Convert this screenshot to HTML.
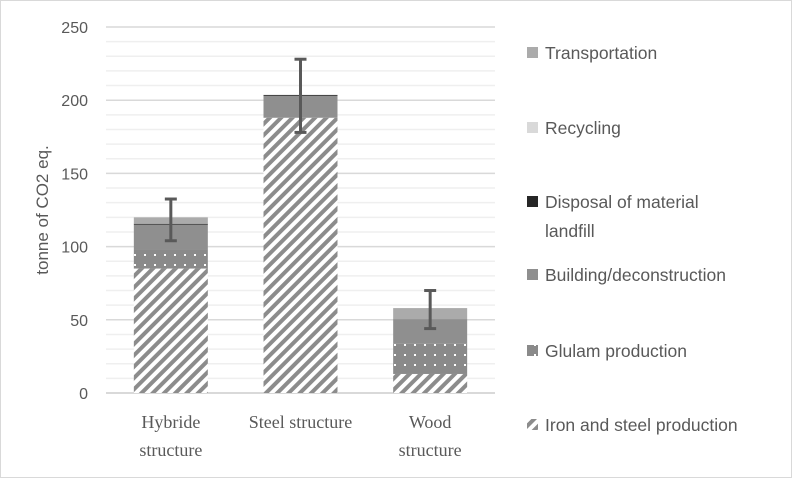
<!DOCTYPE html>
<html><head><meta charset="utf-8"><style>
body{margin:0;background:#fff;}
svg text{font-family:"Liberation Sans",sans-serif;fill:#595959;}
</style></head><body>
<svg width="792" height="478" viewBox="0 0 792 478" xmlns="http://www.w3.org/2000/svg">
<defs>
<pattern id="hatch" patternUnits="userSpaceOnUse" width="8" height="8" patternTransform="rotate(45)">
<rect width="8" height="8" fill="#fff"/><rect width="4" height="8" fill="#8c8c8c"/>
</pattern>
<pattern id="dots" patternUnits="userSpaceOnUse" width="10" height="10">
<rect width="10" height="10" fill="#8a8a8a"/><rect x="4" y="4" width="2" height="2" fill="#fff"/>
</pattern>
</defs>
<rect x="0.5" y="0.5" width="791" height="477" fill="#fff" stroke="#d9d9d9"/>
<g id="grid"></g><g id="bars"></g><g id="labels"></g>
<text transform="translate(48,210) rotate(-90)" text-anchor="middle" font-size="17">tonne of  CO2 eq.</text>
<g id="legend"></g>
</svg>
<script>
const categories=[["Hybride","structure"],["Steel structure"],["Wood","structure"]];
const iron=[85,188,13];
const glulam=[13,0,21];
const building=[17,15,16.5];
const disposal=[0.6,0.6,0];
const recycling=[0,0,0];
const transport=[4.4,0,7.5];
const errHigh=[132.5,228,70];
const errLow=[104,178,44];
const yTicks=[0,50,100,150,200,250];
const ns="http://www.w3.org/2000/svg";
const y0=393,y1=27,yMax=250,plotL=106,plotR=495;
const y=v=>y0-(v/yMax)*(y0-y1);
const bandW=(plotR-plotL)/categories.length;
const cx=i=>plotL+bandW*(i+0.5);
const barW=74;
function mk(tag,attrs,parent){const e=document.createElementNS(ns,tag);for(const k in attrs)e.setAttribute(k,attrs[k]);parent.appendChild(e);return e;}
const grid=document.getElementById('grid');
for(let v=0;v<=yMax;v+=10){
 const l=mk('line',{x1:plotL,x2:plotR,y1:y(v),y2:y(v),stroke:v%50===0?'#d9d9d9':'#efefef','stroke-width':v===0?2:1.5},grid);
 
 
}
const labels=document.getElementById('labels');
yTicks.forEach(t=>{const e=mk('text',{x:88,y:y(t)+6,'text-anchor':'end','font-size':16},labels);e.textContent=t;
 
 });
const series=[[iron,'url(#hatch)','iron'],[glulam,'url(#dots)','glulam'],[building,'#8f8f8f','building'],[disposal,'#262626','disposal'],[recycling,'#d9d9d9','recycling'],[transport,'#ababab','transport']];
const bars=document.getElementById('bars');
categories.forEach((c,i)=>{
 let base=0;
 series.forEach(([arr,fill,nm])=>{const v=arr[i];if(v>0){const r=mk('rect',{x:cx(i)-barW/2,y:y(base+v),width:barW,height:y(base)-y(base+v),fill:fill},bars);
  
  }base+=v;});
 const g=mk('g',{stroke:'#595959','stroke-width':3},bars);
 
 
 mk('line',{x1:cx(i),x2:cx(i),y1:y(errHigh[i]),y2:y(errLow[i])},g);
 mk('line',{x1:cx(i)-6,x2:cx(i)+6,y1:y(errHigh[i]),y2:y(errHigh[i])},g);
 mk('line',{x1:cx(i)-6,x2:cx(i)+6,y1:y(errLow[i]),y2:y(errLow[i])},g);
 c.forEach((ln,j)=>{const t=mk('text',{x:cx(i),y:428+j*28,'text-anchor':'middle','font-size':18,style:'font-family:"Liberation Serif",serif'},labels);t.textContent=ln;
  
  });
});
const legendItems=[["Transportation","#ababab",53],["Recycling","#d9d9d9",128],["Disposal of material|landfill","#262626",202],["Building/deconstruction","#8f8f8f",275],["Glulam production","url(#dots)",351],["Iron and steel production","url(#hatch)",425]];
const lg=document.getElementById('legend');
legendItems.forEach(([name,fill,yy])=>{
 const g=mk('g',{},lg);
 
 
 mk('rect',{x:527,y:yy-6,width:11,height:11,fill:fill},g);
 name.split('|').forEach((p,j)=>{const t=mk('text',{x:545,y:yy+6+j*29,'font-size':17.5},g);t.textContent=p;});
});
</script>
</body></html>
